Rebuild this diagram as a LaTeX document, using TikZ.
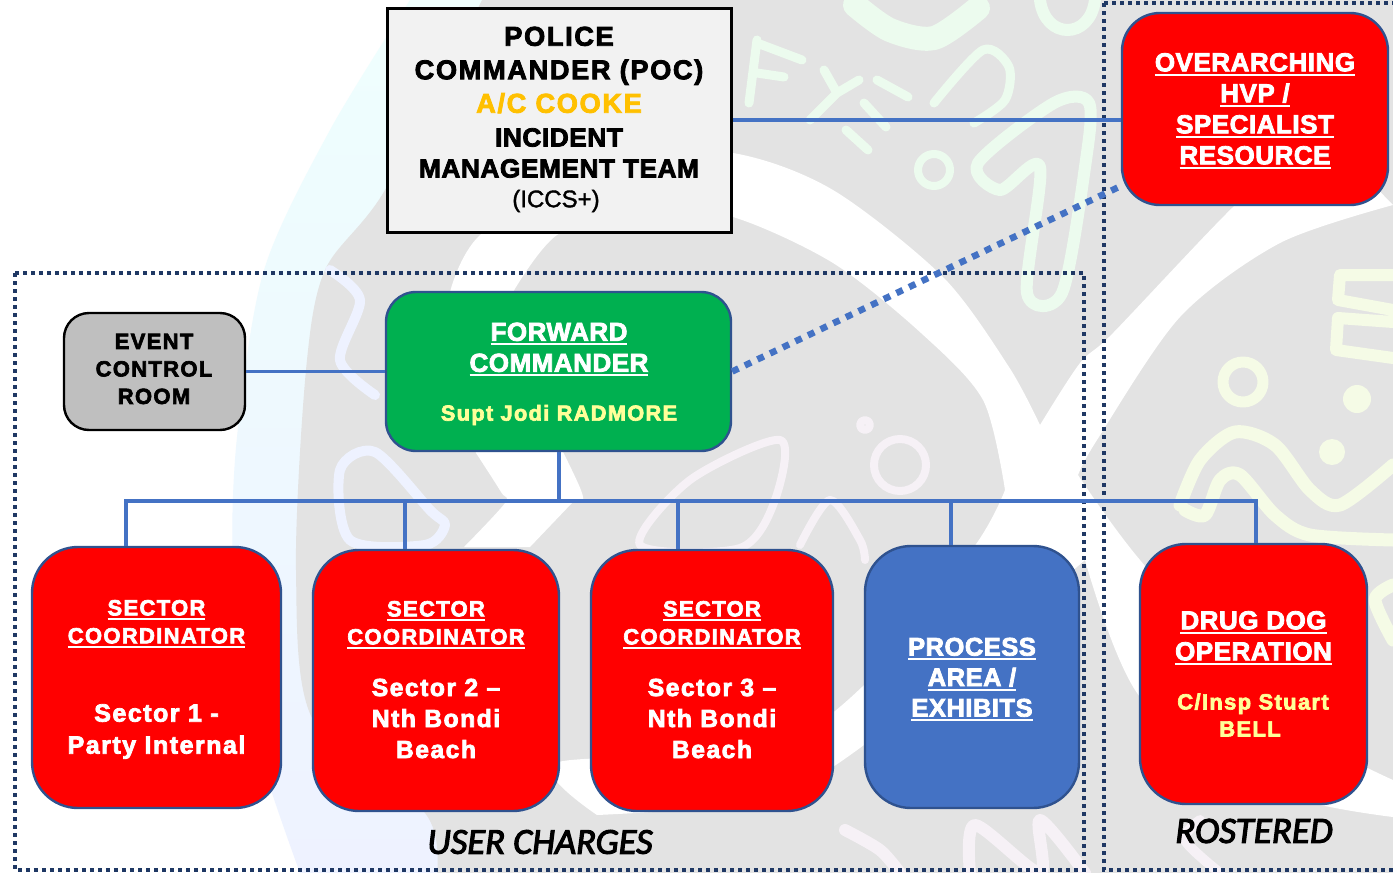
\documentclass[tikz,border=0pt]{standalone}
\usepackage{fontspec}
\setmainfont{Liberation Sans}
\newfontfamily\hb{Liberation Sans}[UprightFont=* Bold,UprightFeatures={FakeBold=3},LetterSpace=2]
\newfontfamily\hbs{Liberation Sans}[UprightFont=* Bold,UprightFeatures={FakeBold=3},LetterSpace=6]
\newfontfamily\hr{Liberation Sans}[UprightFeatures={FakeBold=1.5}]
\newfontfamily\ci{Carlito}[UprightFont=* Italic,UprightFeatures={FakeBold=3}]
\usetikzlibrary{calc}
\definecolor{edgeblue}{HTML}{2F528F}
\definecolor{linkblue}{HTML}{4472C4}
\definecolor{navy}{HTML}{1F3864}
\definecolor{wm}{HTML}{E3E3E3}
\definecolor{softyellow}{HTML}{FFFF99}
\definecolor{amber}{HTML}{FFC000}
\definecolor{mgreen}{HTML}{ECFBEE}
\definecolor{myellow}{HTML}{F5FBE6}
\definecolor{mblue}{HTML}{EEF2FF}
\definecolor{mpink}{HTML}{F6F1F6}
\definecolor{okgreen}{HTML}{00B050}
\newcommand{\ul}[1]{\setbox0\hbox{#1}\leavevmode\rlap{\rule[-4.6pt]{\wd0}{2.2pt}}\box0}
\tikzset{
 box/.style={draw=edgeblue,line width=2.4pt,rounded corners=#1,inner sep=0pt},
 txt/.style={align=center,inner sep=0pt,white},
 link/.style={draw=linkblue,line width=3.6pt},
 zone/.style={draw=navy,line width=4pt,dash pattern=on 4pt off 4pt},
 mot/.style={line width=#1,line cap=round,line join=round},
}
\begin{document}
\begin{tikzpicture}[x=1pt,y=-1pt]
\useasboundingbox (0,0) rectangle (1393,873);
% watermark
\fill[white] (0,0) rectangle (1393,873);
\shade[top color=mgreen!50!cyan!12,bottom color=mblue]
  plot[smooth] coordinates {(410,0) (330,130) (264,270) (237,437) (233,570) (250,720) (300,873)} -- (1393,873) -- (1393,0) -- cycle;
\fill[wm] plot[smooth] coordinates {(482,0) (385,190) (325,270) (306,370) (296,570) (313,720) (425,813) (437,873)} -- (1393,873) -- (1393,0) -- cycle;
\fill[white]
  plot[smooth] coordinates {(450,292) (480,235) (600,150) (733,153) (833,190) (943,277) (1009,367) (1040,425)}
  -- plot[smooth] coordinates {(1040,425) (1080,363) (1113,333) (1233,207) (1320,130)}
  -- (1393,205)
  -- plot[smooth] coordinates {(1393,205) (1280,243) (1180,317) (1097,440) (1078,475)}
  -- plot[smooth] coordinates {(1078,475) (1140,560) (1280,715) (1393,780)}
  -- (1393,817)
  -- plot[smooth] coordinates {(1393,817) (1270,790) (1140,697) (1085,560)}
  -- plot[smooth] coordinates {(1085,560) (864,745) (760,800) (597,815)}
  -- plot[smooth] coordinates {(597,815) (555,763) (760,750) (862,687) (974,547) (1005,490)}
  -- plot[smooth] coordinates {(1005,490) (983,400) (921,333) (833,263) (733,217) (640,205) (557,235) (513,292)}
  -- plot[smooth] coordinates {(513,292) (540,400) (582,493) (572,503) (530,547)}
  -- (464,547)
  -- plot[smooth] coordinates {(464,547) (505,503) (501,492) (476,453)} -- cycle;
% motifs, top
\draw[mgreen,mot=9pt] (757,40) -- (749,103) (757,43) -- (802,60) (757,73) -- (784,77)
  (824,70) -- (837,93) -- (859,80) (837,93) -- (810,120)
  (877,80) -- (908,97) (864,103) -- (886,127) (846,130) -- (868,150);
\draw[mgreen,mot=9pt] plot[smooth] coordinates {(934,103) (983,50) (1009,67) (1005,100) (974,123)};
\draw[mgreen,mot=8pt] (934,170) circle (16pt);
\draw[mgreen,mot=12pt] plot[smooth cycle] coordinates {(978,163) (1054,103) (1089,103) (1085,167) (1062,293) (1027,293) (1040,167) (1000,190)};
\draw[mgreen,mot=24pt] plot[smooth] coordinates {(855,5) (890,30) (934,38) (978,8)};
\draw[mgreen,mot=12pt] (1040,0) .. controls (1045,40) and (1090,40) .. (1095,0);
% motifs, right lobe
\draw[myellow,mot=12pt] (1393,275) -- (1340,275) -- (1338,300) -- (1393,310) (1393,322) -- (1338,318) -- (1336,350) -- (1393,358);
\draw[myellow,mot=11pt] (1243,382) circle (20pt);
\fill[myellow] (1357,399) circle (14pt) (1332,452) circle (13pt);
\draw[myellow,mot=13pt] plot[smooth] coordinates {(1180,505) (1200,460) (1235,432) (1275,445) (1310,490) (1340,505) (1393,465)};
\draw[myellow,mot=13pt] plot[smooth] coordinates {(1185,510) (1205,515) (1220,480) (1240,475) (1275,515) (1310,535) (1393,540)};
\draw[myellow,mot=13pt] plot[smooth] coordinates {(1393,585) (1375,600) (1393,640)};
% motifs, left and bottom
\draw[mblue,mot=10pt] plot[smooth] coordinates {(330,270) (360,300) (340,360) (375,395)};
\draw[mblue,mot=10pt] plot[smooth cycle] coordinates {(340,470) (375,452) (430,510) (445,525) (425,545) (350,540)};
\draw[mpink,mot=8pt] plot[smooth cycle] coordinates {(640,545) (690,480) (780,440) (775,500) (740,548)};
\draw[mpink,mot=8pt] (865,425) circle (5pt) (900,465) circle (26pt);
\draw[mpink,mot=8pt] plot[smooth] coordinates {(800,545) (830,500) (860,540) (865,560)};
\draw[mpink,mot=12pt] plot[smooth] coordinates {(845,830) (880,850) (900,873)};
\draw[mpink,mot=12pt] plot[smooth] coordinates {(970,873) (975,825) (1040,873) (1040,820) (1085,873)};
\draw[mpink,mot=10pt] plot[smooth] coordinates {(1220,873) (1185,840) (1200,820)};
% zones
\draw[zone] (15,273) rectangle (1084,870);
\draw[zone] (1104,3) -- (1395,3) (1104,3) -- (1104,870) -- (1395,870);
% boxes
\node[draw=black,line width=3pt,fill=black!5,minimum width=344pt,minimum height=224pt,inner sep=0pt] (poc) at (559,120) {};
\node[box=38pt,fill=red,minimum width=266pt,minimum height=192pt] (over) at (1255,109) {};
\node[box=30pt,fill=okgreen,minimum width=345pt,minimum height=159pt] (fwd) at (558.5,371.5) {};
\node[box=25pt,draw=black,fill=black!25,minimum width=181pt,minimum height=117pt] (ecr) at (154.5,371.5) {};
\node[box=46pt,fill=red,minimum width=249pt,minimum height=261pt] (s1) at (156.5,677.5) {};
\node[box=46pt,fill=red,minimum width=246pt,minimum height=261pt] (s2) at (436,680.5) {};
\node[box=46pt,fill=red,minimum width=242pt,minimum height=261pt] (s3) at (712,680.5) {};
\node[box=46pt,fill=linkblue,minimum width=214pt,minimum height=262pt] (pa) at (972,677) {};
\node[box=46pt,fill=red,minimum width=227pt,minimum height=260pt] (dd) at (1253.5,674) {};
% connectors
\coordinate (busL) at (126,501); \coordinate (busR) at (1256,501); \coordinate (busM) at (559,501);
\coordinate (overlow) at (1123,185);
\coordinate (b2) at (405,501); \coordinate (b3) at (678,501); \coordinate (b4) at (951,501);
\draw[link] (poc.south -| busM) -- (poc.south -| busM |- fwd.north);
\draw[link] (poc.east) -- (poc.east -| over.west);
\draw[link] (ecr.east) -- (fwd.west);
\draw[draw=linkblue,line width=6.5pt,dash pattern=on 7pt off 7pt] (fwd.east) -- (overlow);
\draw[link] (fwd.south -| busM) -- (busM);
\draw[link,line cap=rect] (busL) -- (busR);
\draw[link] (busL) -- (busL |- s1.north);
\draw[link] (b2) -- (b2 |- s2.north);
\draw[link] (b3) -- (b3 |- s3.north);
\draw[link] (b4) -- (b4 |- pa.north);
\draw[link] (busR) -- (busR |- dd.north);
% texts
\node[align=center,inner sep=0pt,font=\hbs\fontsize{27.2}{33.5}\selectfont] (poct) at (559,70) {POLICE\\COMMANDER (POC)\\\textcolor{amber}{A/C COOKE}};
\node[align=center,inner sep=0pt,font=\hb\fontsize{26.3}{31}\selectfont] (poct2) at (559,153) {INCIDENT\\MANAGEMENT TEAM};
\node[inner sep=0pt,font=\hr\fontsize{24}{30}\selectfont,text width=100pt,align=center] (poct3) at (556,201) {(ICCS+)};
\node[txt,font=\hb\fontsize{26}{31}\selectfont] (overt) at (1255,111) {\ul{OVERARCHING}\\\ul{HVP /}\\\ul{SPECIALIST}\\\ul{RESOURCE}};
\node[txt,font=\hb\fontsize{26}{31}\selectfont] (fwdt) at (559,349.5) {\ul{FORWARD}\\\ul{COMMANDER}};
\node[txt,text=softyellow,font=\hbs\fontsize{21.8}{28}\selectfont] (fwdn) at (559,415) {Supt Jodi RADMORE};
\node[align=center,inner sep=0pt,font=\hbs\fontsize{22}{27.5}\selectfont] (ecrt) at (154,369) {EVENT\\CONTROL\\ROOM};
\node[txt,font=\hbs\fontsize{22}{28}\selectfont] (s1a) at (156.5,624) {\ul{SECTOR}\\\ul{COORDINATOR}};
\node[txt,font=\hbs\fontsize{25}{32}\selectfont] (s1b) at (156.5,731.5) {Sector 1 -\\Party Internal};
\node[txt,font=\hbs\fontsize{22}{28}\selectfont] (s2a) at (436,625) {\ul{SECTOR}\\\ul{COORDINATOR}};
\node[txt,font=\hbs\fontsize{24.7}{31}\selectfont] (s2b) at (436,718.5) {Sector 2 –\\Nth Bondi\\Beach};
\node[txt,font=\hbs\fontsize{22}{28}\selectfont] (s3a) at (712,625) {\ul{SECTOR}\\\ul{COORDINATOR}};
\node[txt,font=\hbs\fontsize{24.7}{31}\selectfont] (s3b) at (712,718.5) {Sector 3 –\\Nth Bondi\\Beach};
\node[txt,font=\hb\fontsize{25.5}{30.5}\selectfont] (pat) at (972,679.5) {\ul{PROCESS}\\\ul{AREA /}\\\ul{EXHIBITS}};
\node[txt,font=\hb\fontsize{26}{31}\selectfont] (ddt) at (1253.5,638) {\ul{DRUG DOG}\\\ul{OPERATION}};
\node[txt,text=softyellow,font=\hbs\fontsize{22}{27}\selectfont] (ddn) at (1253,715) {C/Insp Stuart\\BELL\hspace*{6pt}};
\node[inner sep=0pt,font=\ci\fontsize{36.5}{40}\selectfont] (uc) at (540,842) {USER CHARGES};
\node[inner sep=0pt,font=\ci\fontsize{37}{40}\selectfont] (ros) at (1254,831) {ROSTERED};
\end{tikzpicture}
\end{document}
